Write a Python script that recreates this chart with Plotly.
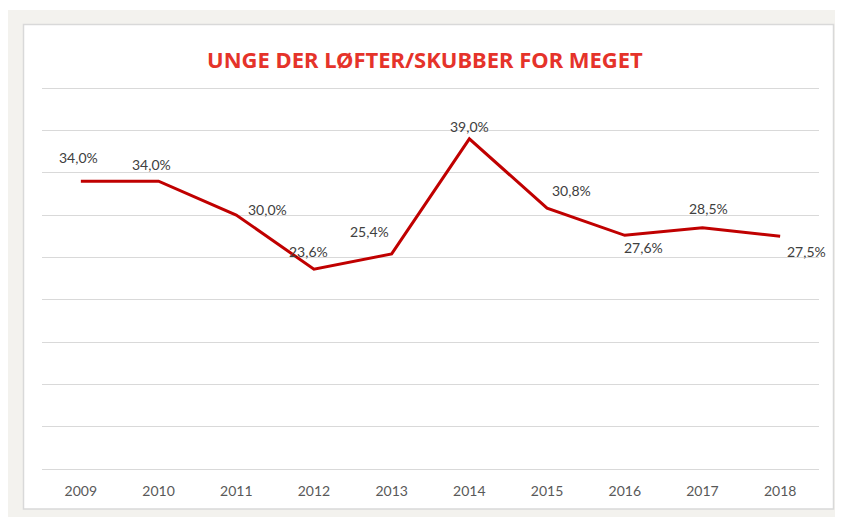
import plotly.graph_objects as go

years = ["2009", "2010", "2011", "2012", "2013", "2014", "2015", "2016", "2017", "2018"]
values = [34.0, 34.0, 30.0, 23.6, 25.4, 39.0, 30.8, 27.6, 28.5, 27.5]
labels = ["34,0%", "34,0%", "30,0%", "23,6%", "25,4%", "39,0%", "30,8%", "27,6%", "28,5%", "27,5%"]
title_text = "UNGE DER LØFTER/SKUBBER FOR MEGET"

# label offsets in pixels (style)
offsets = [(-2, -24), (-7, -17), (31, -6), (-5, -18), (-22, -22),
           (0, -12), (24, -18), (19, 12), (6, -19), (26, 15)]

W, H = 835, 509
L, R, T, B = 34, 24, 72, 48
pw, ph = W - L - R, H - T - B
ppu = 381 / 45.0
ytop = ph / ppu

def px(x):
    return (x - L) / pw

def py(y):
    return (H - B - y) / ph

fig = go.Figure()
fig.add_trace(go.Scatter(
    x=years, y=values, mode="lines",
    line=dict(color="#c00000", width=3),
    hoverinfo="skip", showlegend=False,
))

for i, (v, lab, (dx, dy)) in enumerate(zip(values, labels, offsets)):
    fig.add_annotation(x=i, y=v, text=lab, showarrow=False,
                       xshift=dx, yshift=-dy,
                       font=dict(family="Lato, Carlito, sans-serif", size=14, color="#404040"))

shapes = [
    dict(type="rect", xref="paper", yref="paper", x0=px(-5), x1=px(W + 5), y0=py(2), y1=py(-5),
         fillcolor="#ffffff", line=dict(width=0), layer="below"),
    dict(type="rect", xref="paper", yref="paper", x0=px(15.5), x1=px(825.5), y0=py(501), y1=py(16.5),
         fillcolor="#ffffff", line=dict(color="#d9d9d9", width=1.5), layer="below"),
]

fig.update_layout(
    width=W, height=H,
    margin=dict(l=L, r=R, t=T, b=B),
    paper_bgcolor="#f3f2ee",
    plot_bgcolor="rgba(0,0,0,0)",
    shapes=shapes,
    title=dict(text="<b>" + title_text + "</b>", x=px(422), xanchor="center",
               y=1 - 52 / H, yanchor="middle",
               font=dict(family="Noto Sans, Open Sans, sans-serif", size=22, color="#e5332a")),
    xaxis=dict(type="category", range=[-0.5, 9.5], showgrid=False, showline=False,
               zeroline=False, ticks="outside", ticklen=9, tickcolor="rgba(0,0,0,0)",
               tickfont=dict(family="Lato, Carlito, sans-serif", size=14, color="#595959")),
    yaxis=dict(range=[0, ytop], dtick=5, tick0=0, showgrid=True, gridcolor="#d9d9d9",
               gridwidth=1, zeroline=True, zerolinecolor="#d9d9d9", zerolinewidth=1,
               showline=False, showticklabels=False, ticks=""),
)

fig.write_html("out.html")
